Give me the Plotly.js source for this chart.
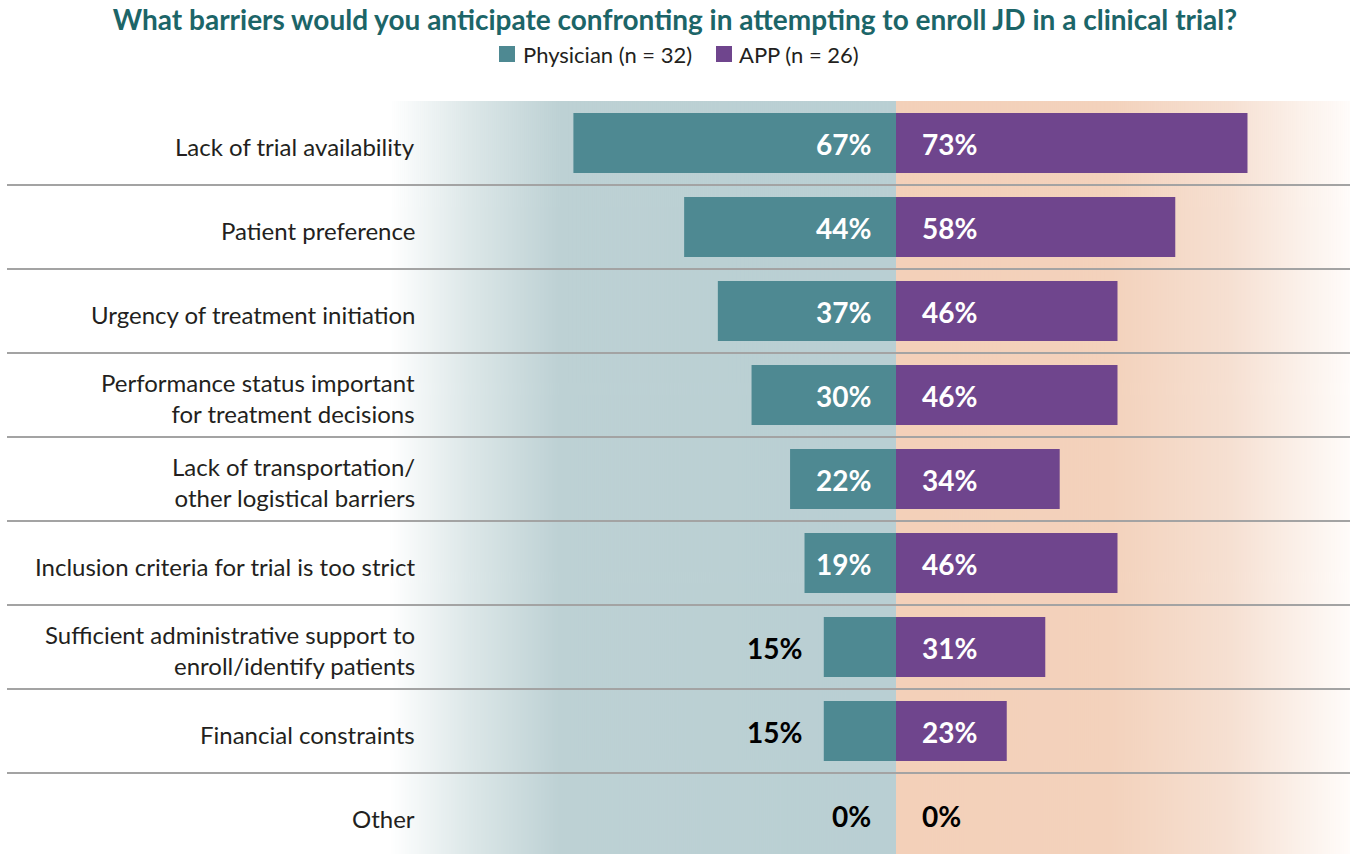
<!DOCTYPE html>
<html>
<head>
<meta charset="utf-8">
<script src="https://cdn.plot.ly/plotly-3.0.1.min.js"></script>
<style>
html,body{margin:0;padding:0;background:#fff;}
#chart{width:1350px;height:854px;}
</style>
</head>
<body>
<div id="chart"></div>
<script>
// ---- data ----
const categories = [
  "Lack of trial availability",
  "Patient preference",
  "Urgency of treatment initiation",
  "Performance status important<br>for treatment decisions",
  "Lack of transportation/<br>other logistical barriers",
  "Inclusion criteria for trial is too strict",
  "Sufficient administrative support to<br>enroll/identify patients",
  "Financial constraints",
  "Other"
];
const physician = [67, 44, 37, 30, 22, 19, 15, 15, 0];
const app = [73, 58, 46, 46, 34, 46, 31, 23, 0];
const seriesNames = ["Physician (n = 32)", "APP (n = 26)"];
const chartTitle = "What barriers would you anticipate confronting in attempting to enroll JD in a clinical trial?";

// ---- styling ----
const W = 1350, H = 854;
const centerPx = 896, pxPerPct = 4.815;
const plotTop = 101;
const rowPx = 84;
const xRange = [-centerPx / pxPerPct, (W - centerPx) / pxPerPct];
const yBottom = -0.5 + (H - plotTop) / rowPx;
const teal = "#4E8992", purple = "#6F458D";
const colors = [teal, purple];
const FONT = "Lato, 'Open Sans', sans-serif";
const valueFont = {family: FONT, size: 28, weight: 700};
const py = p => (H - p) / (H - plotTop);   // pixel y -> paper y
const px = p => p / W;                       // pixel x -> paper x

// background gradient image
function gradientImage() {
  const c = document.createElement("canvas");
  c.width = W; c.height = 4;
  const ctx = c.getContext("2d");
  const g = ctx.createLinearGradient(0, 0, W, 0);
  const s = p => p / W;
  g.addColorStop(0, "rgba(255,255,255,1)");
  g.addColorStop(s(390), "rgba(255,255,255,1)");
  g.addColorStop(s(470), "#DCE7E8");
  g.addColorStop(s(560), "#BDD1D4");
  g.addColorStop(s(895.5), "#B9CFD3");
  g.addColorStop(s(896.5), "#F3D0B9");
  g.addColorStop(s(1110), "#F3D2BC");
  g.addColorStop(s(1230), "#F6E0D2");
  g.addColorStop(1, "#FFFCFA");
  ctx.fillStyle = g;
  ctx.fillRect(0, 0, W, 4);
  return c.toDataURL();
}

const traces = [
  {
    type: "bar", orientation: "h", name: seriesNames[0],
    y: categories, x: physician.map(v => -v),
    marker: {color: teal}, width: 0.714, hoverinfo: "skip"
  },
  {
    type: "bar", orientation: "h", name: seriesNames[1],
    y: categories, x: app,
    marker: {color: purple}, width: 0.714, hoverinfo: "skip"
  }
];

const annotations = [];
categories.forEach((cat, i) => {
  annotations.push({
    xref: "paper", yref: "y", x: px(417), y: cat, xanchor: "right", yanchor: "middle", yshift: -3,
    text: cat, showarrow: false, align: "right",
    font: {family: FONT, size: 24, color: "#231F20"}
  });
  const p = physician[i];
  const inside = p * pxPerPct >= 90;
  if (p === 0 || inside) {
    annotations.push({
      xref: "x", yref: "y", x: 0, y: cat, xanchor: "right", yanchor: "middle", xshift: -23, yshift: -1,
      text: p + "%", showarrow: false,
      font: Object.assign({}, valueFont, {color: p === 0 ? "#000" : "#fff"})
    });
  } else {
    annotations.push({
      xref: "x", yref: "y", x: -p, y: cat, xanchor: "right", yanchor: "middle", xshift: -20, yshift: -1,
      text: p + "%", showarrow: false,
      font: Object.assign({}, valueFont, {color: "#000"})
    });
  }
  const a = app[i];
  annotations.push({
    xref: "x", yref: "y", x: 0, y: cat, xanchor: "left", yanchor: "middle", xshift: 24, yshift: -1,
    text: a + "%", showarrow: false,
    font: Object.assign({}, valueFont, {color: a === 0 ? "#000" : "#fff"})
  });
});

const shapes = [];
for (let i = 0; i < categories.length - 1; i++) {
  shapes.push({
    type: "line", xref: "paper", yref: "y", x0: px(7), x1: 1, y0: i + 0.5, y1: i + 0.5,
    line: {color: "#A3A3A3", width: 2}, layer: "above"
  });
}

// custom legend (square + label)
const legendItems = [{sq: 499, tx: 521}, {sq: 716, tx: 737}];
legendItems.forEach((it, k) => {
  shapes.push({
    type: "rect", xref: "paper", yref: "paper",
    x0: px(it.sq), x1: px(it.sq + 16), y0: py(62), y1: py(46),
    fillcolor: colors[k], line: {width: 0}
  });
  annotations.push({
    xref: "paper", yref: "paper", x: px(it.tx), y: py(54), xanchor: "left", yanchor: "middle",
    text: seriesNames[k], showarrow: false,
    font: {family: FONT, size: 22, color: "#231F20"}
  });
});

const layout = {
  width: W, height: H,
  margin: {l: 0, r: 0, t: plotTop, b: 0, pad: 0},
  paper_bgcolor: "#fff", plot_bgcolor: "rgba(0,0,0,0)",
  barmode: "relative",
  title: {
    text: "<b>" + chartTitle + "</b>",
    x: 0.5, xanchor: "center", xref: "paper", y: 1 - 20 / H, yanchor: "middle", yref: "container",
    font: {family: FONT, size: 28, color: "#1C6568"}
  },
  showlegend: false,
  xaxis: {range: xRange, visible: false, fixedrange: true},
  yaxis: {type: "category", categoryorder: "array", categoryarray: categories,
          range: [yBottom, -0.5], visible: false, fixedrange: true},
  images: [{
    source: gradientImage(), xref: "paper", yref: "paper", x: 0, y: 1, sizex: 1, sizey: 1,
    sizing: "stretch", xanchor: "left", yanchor: "top", layer: "below"
  }],
  annotations: annotations,
  shapes: shapes
};

Plotly.newPlot("chart", traces, layout, {displayModeBar: false, staticPlot: true});
</script>
</body>
</html>
